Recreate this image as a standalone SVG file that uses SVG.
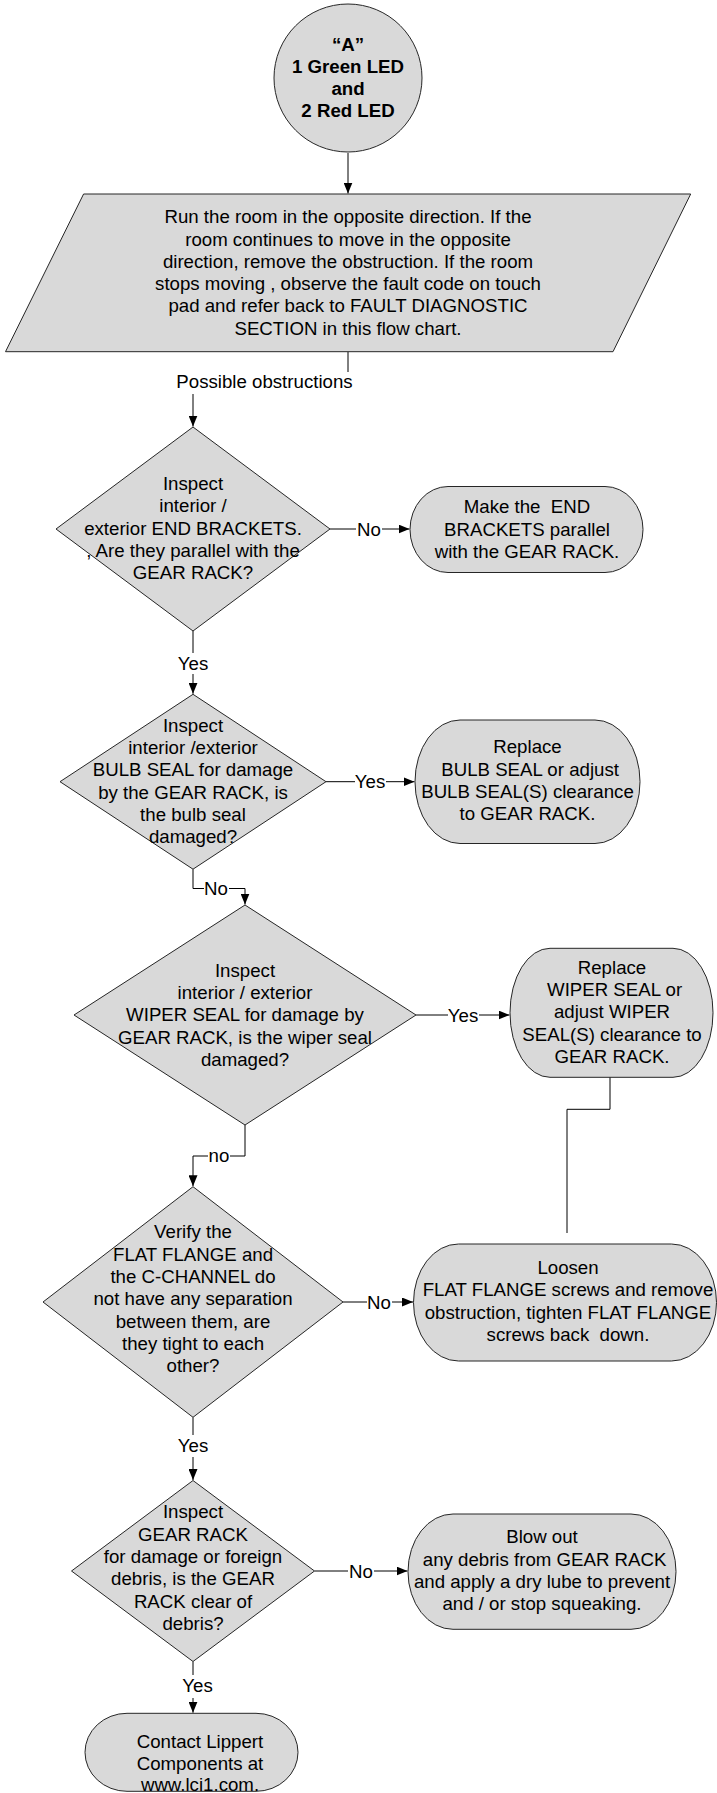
<svg xmlns="http://www.w3.org/2000/svg" width="717" height="1793" viewBox="0 0 717 1793">
<style>
.shape{fill:#d9d9d9;stroke:#262626;stroke-width:1}
.t{font-family:"Liberation Sans",Arial,sans-serif;font-size:18.67px;fill:#000;text-anchor:middle}
.b{font-weight:bold}
.c{fill:none;stroke:#000;stroke-width:1}
.lb{fill:#fff;stroke:none}
</style>
<defs>
<marker id="ah" viewBox="0 0 11 9" refX="11" refY="4.5" markerWidth="11" markerHeight="9" markerUnits="userSpaceOnUse" orient="auto"><path d="M0,0 L11,4.5 L0,9 z" fill="#000"/></marker>
</defs>
<rect width="717" height="1793" fill="#fff"/>

<g id="connectors">
<path class="c" d="M348,153 V193.5" marker-end="url(#ah)"/>
<path class="c" d="M348,352 V383 H193 V426.5" marker-end="url(#ah)"/>
<rect class="lb" x="174" y="372" width="182" height="22"/>
<text class="t" x="264.5" y="388.3">Possible obstructions</text>

<path class="c" d="M330,529 H409.5" marker-end="url(#ah)"/>
<rect class="lb" x="356" y="520" width="26" height="18"/>
<text class="t" x="369" y="535.5">No</text>

<path class="c" d="M193,631 V693.8" marker-end="url(#ah)"/>
<rect class="lb" x="178" y="653" width="30" height="21"/>
<text class="t" x="193" y="669.5">Yes</text>

<path class="c" d="M326,781.7 H414.5" marker-end="url(#ah)"/>
<rect class="lb" x="355" y="772" width="31" height="18"/>
<text class="t" x="370" y="788">Yes</text>

<path class="c" d="M193,869.2 V888.5 H245 V904.5" marker-end="url(#ah)"/>
<rect class="lb" x="204" y="880" width="25" height="17"/>
<text class="t" x="216" y="895">No</text>

<path class="c" d="M416,1015 H509.5" marker-end="url(#ah)"/>
<rect class="lb" x="448" y="1006" width="31" height="18"/>
<text class="t" x="463" y="1021.5">Yes</text>

<path class="c" d="M610,1077 V1109.3 H567 V1233"/>

<path class="c" d="M245,1125 V1156 H193 V1186.2" marker-end="url(#ah)"/>
<rect class="lb" x="208" y="1148" width="22" height="16"/>
<text class="t" x="219" y="1162">no</text>

<path class="c" d="M343,1302 H413" marker-end="url(#ah)"/>
<rect class="lb" x="367" y="1293" width="25" height="18"/>
<text class="t" x="379" y="1308.5">No</text>

<path class="c" d="M193,1417.3 V1480" marker-end="url(#ah)"/>
<rect class="lb" x="178" y="1435" width="31" height="22"/>
<text class="t" x="193" y="1451.5">Yes</text>

<path class="c" d="M314.5,1571 H407.5" marker-end="url(#ah)"/>
<rect class="lb" x="348" y="1562" width="26" height="18"/>
<text class="t" x="361" y="1577.5">No</text>

<path class="c" d="M193,1661.5 V1712.7" marker-end="url(#ah)"/>
<rect class="lb" x="182" y="1675" width="31" height="23"/>
<text class="t" x="197.5" y="1692">Yes</text>
</g>

<g id="start">
<circle class="shape" cx="348" cy="78" r="74"/>
<text class="t b"><tspan x="348" y="50.5">“A”</tspan><tspan x="348" y="72.8">1 Green LED</tspan><tspan x="348" y="95">and</tspan><tspan x="348" y="117.3">2 Red LED</tspan></text>
</g>

<g id="run-room">
<polygon class="shape" points="83.6,194 690.7,194 613,351.7 5.5,351.7"/>
<text class="t"><tspan x="348" y="223.3">Run the room in the opposite direction. If the</tspan><tspan x="348" y="245.6">room continues to move in the opposite</tspan><tspan x="348" y="267.8">direction, remove the obstruction. If the room</tspan><tspan x="348" y="290">stops moving , observe the fault code on touch</tspan><tspan x="348" y="312.3">pad and refer back to FAULT DIAGNOSTIC</tspan><tspan x="348" y="334.5">SECTION in this flow chart.</tspan></text>
</g>

<g id="end-brackets">
<polygon class="shape" points="193,427 330,529 193,631 56,529"/>
<text class="t"><tspan x="193" y="490">Inspect</tspan><tspan x="193" y="512.3">interior /</tspan><tspan x="193" y="534.6">exterior END BRACKETS.</tspan><tspan x="193" y="557">, Are they parallel with the</tspan><tspan x="193" y="579.3">GEAR RACK?</tspan></text>
</g>

<g id="make-parallel">
<rect class="shape" x="410" y="486.5" width="233" height="86" rx="38" ry="43"/>
<text class="t" xml:space="preserve"><tspan x="527" y="513.3">Make the  END</tspan><tspan x="527" y="535.5">BRACKETS parallel</tspan><tspan x="527" y="557.7">with the GEAR RACK.</tspan></text>
</g>

<g id="bulb-seal">
<polygon class="shape" points="193,694.3 326,781.7 193,869.2 60,781.7"/>
<text class="t"><tspan x="193" y="731.7">Inspect</tspan><tspan x="193" y="754">interior /exterior</tspan><tspan x="193" y="776.2">BULB SEAL for damage</tspan><tspan x="193" y="798.5">by the GEAR RACK, is</tspan><tspan x="193" y="820.8">the bulb seal</tspan><tspan x="193" y="843.1">damaged?</tspan></text>
</g>

<g id="replace-bulb">
<rect class="shape" x="415" y="720" width="225" height="123.5" rx="45" ry="61.7"/>
<text class="t" xml:space="preserve"><tspan x="527.5" y="753.3">Replace</tspan><tspan x="527.5" y="775.6"> BULB SEAL or adjust</tspan><tspan x="527.5" y="797.9">BULB SEAL(S) clearance</tspan><tspan x="527.5" y="820.2">to GEAR RACK.</tspan></text>
</g>

<g id="wiper-seal">
<polygon class="shape" points="245,905 416,1015 245,1125 74,1015"/>
<text class="t"><tspan x="245" y="976.7">Inspect</tspan><tspan x="245" y="999">interior / exterior</tspan><tspan x="245" y="1021.3">WIPER SEAL for damage by</tspan><tspan x="245" y="1043.6">GEAR RACK, is the wiper seal</tspan><tspan x="245" y="1065.9">damaged?</tspan></text>
</g>

<g id="replace-wiper">
<rect class="shape" x="510" y="948.3" width="203" height="129" rx="40" ry="64.5"/>
<text class="t" xml:space="preserve"><tspan x="612" y="974">Replace</tspan><tspan x="612" y="996.2"> WIPER SEAL or</tspan><tspan x="612" y="1018.4">adjust WIPER</tspan><tspan x="612" y="1040.6">SEAL(S) clearance to</tspan><tspan x="612" y="1062.8">GEAR RACK.</tspan></text>
</g>

<g id="flat-flange">
<polygon class="shape" points="193,1186.7 343,1302 193,1417.3 43,1302"/>
<text class="t"><tspan x="193" y="1238.3">Verify the</tspan><tspan x="193" y="1260.6">FLAT FLANGE and</tspan><tspan x="193" y="1282.9">the C-CHANNEL do</tspan><tspan x="193" y="1305.2">not have any separation</tspan><tspan x="193" y="1327.5">between them, are</tspan><tspan x="193" y="1349.8">they tight to each</tspan><tspan x="193" y="1372.1">other?</tspan></text>
</g>

<g id="loosen">
<rect class="shape" x="413.5" y="1244" width="303" height="117" rx="45" ry="58.5"/>
<text class="t" xml:space="preserve"><tspan x="568" y="1274">Loosen</tspan><tspan x="568" y="1296.3">FLAT FLANGE screws and remove</tspan><tspan x="568" y="1318.6">obstruction, tighten FLAT FLANGE</tspan><tspan x="568" y="1340.9">screws back  down.</tspan></text>
</g>

<g id="gear-rack">
<polygon class="shape" points="193,1480.5 314.5,1571 193,1661.5 71.5,1571"/>
<text class="t"><tspan x="193" y="1518.3">Inspect</tspan><tspan x="193" y="1540.6">GEAR RACK</tspan><tspan x="193" y="1562.9">for damage or foreign</tspan><tspan x="193" y="1585.2">debris, is the GEAR</tspan><tspan x="193" y="1607.5">RACK clear of</tspan><tspan x="193" y="1629.8">debris?</tspan></text>
</g>

<g id="blow-out">
<rect class="shape" x="408" y="1514" width="268" height="115.3" rx="45" ry="57.6"/>
<text class="t" xml:space="preserve"><tspan x="542" y="1543.3">Blow out</tspan><tspan x="542" y="1565.6"> any debris from GEAR RACK</tspan><tspan x="542" y="1587.9">and apply a dry lube to prevent</tspan><tspan x="542" y="1610.2">and / or stop squeaking.</tspan></text>
</g>

<g id="contact">
<rect class="shape" x="85" y="1713.3" width="213" height="78" rx="42" ry="39"/>
<text class="t"><tspan x="200" y="1748">Contact Lippert</tspan><tspan x="200" y="1769.5">Components at</tspan><tspan x="200" y="1791">www.lci1.com.</tspan></text>
</g>
</svg>
